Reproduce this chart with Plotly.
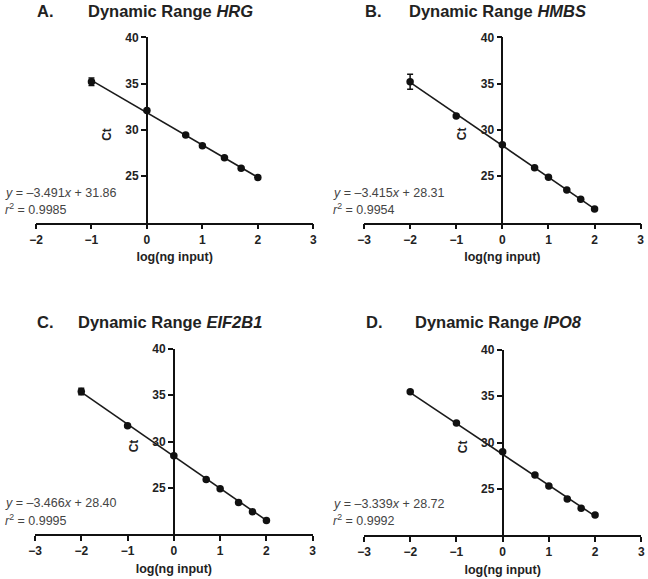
import plotly.graph_objects as go

# ---------------- data ----------------
genes = ["HRG", "HMBS", "EIF2B1", "IPO8"]
letters = ["A.", "B.", "C.", "D."]

x_A = [-1, 0, 0.699, 1, 1.398, 1.699, 2]
ct_A = [35.2, 32.1, 29.45, 28.3, 27.0, 25.85, 24.85]
err_A = [0.4, 0, 0, 0, 0, 0, 0]

x_B = [-2, -1, 0, 0.699, 1, 1.398, 1.699, 2]
ct_B = [35.2, 31.5, 28.4, 25.9, 24.9, 23.5, 22.5, 21.45]
err_B = [0.8, 0, 0, 0, 0, 0, 0, 0]

x_C = [-2, -1, 0, 0.699, 1, 1.398, 1.699, 2]
ct_C = [35.4, 31.7, 28.45, 25.9, 24.9, 23.4, 22.4, 21.45]
err_C = [0.35, 0, 0, 0, 0, 0, 0, 0]

x_D = [-2, -1, 0, 0.699, 1, 1.398, 1.699, 2]
ct_D = [35.5, 32.1, 29.0, 26.5, 25.3, 23.9, 22.9, 22.15]
err_D = [0, 0, 0, 0, 0, 0, 0, 0]

slopes = [-3.491, -3.415, -3.466, -3.339]
intercepts = [31.86, 28.31, 28.40, 28.72]
r2 = ["0.9985", "0.9954", "0.9995", "0.9992"]

x_ranges = [[-2, 3], [-3, 3], [-3, 3], [-3, 3]]
x_ticks = [[-2, -1, 0, 1, 2, 3], [-3, -2, -1, 0, 1, 2, 3],
           [-3, -2, -1, 0, 1, 2, 3], [-3, -2, -1, 0, 1, 2, 3]]
y_range = [20, 40]
y_ticks = [25, 30, 35, 40]

xs = [x_A, x_B, x_C, x_D]
cts = [ct_A, ct_B, ct_C, ct_D]
errs = [err_A, err_B, err_C, err_D]

# ---------------- layout geometry (window pixels) ----------------
W, H = 648, 579
FONT = "Liberation Sans, Arial, sans-serif"


def px(x):
    return x / W


def py(y):
    return 1 - y / H


# (x0, x1, ytop, ybottom) of each plot area in window pixels
boxes = [(36, 313.3, 37.3, 222.5), (364, 640.7, 37.3, 222.5),
         (35, 312.7, 349, 534), (364, 641.3, 350, 535)]
title_pos = [(35, 86, 11), (363, 407, 11), (35, 76, 322), (364, 413, 322)]
eq_pos = [(3, 193, 209), (331, 193, 209), (3, 503, 520), (331, 504, 520)]

fig = go.Figure()
layout = dict(width=W, height=H, margin=dict(l=0, r=0, t=0, b=0, pad=0, autoexpand=False),
              plot_bgcolor="white", paper_bgcolor="white",
              showlegend=False, font=dict(family=FONT, color="#222"))
annotations = []

for i in range(4):
    n = "" if i == 0 else str(i + 1)
    xa, ya = "x" + n, "y" + n
    x0, x1, yt, yb = boxes[i]
    xd = [px(x0), px(x1)]
    yd = [py(yb), py(yt)]
    xmin, xmax = x_ranges[i]
    frac0 = (0 - xmin) / (xmax - xmin)
    ypos = xd[0] + frac0 * (xd[1] - xd[0])
    yaxis_px = x0 + frac0 * (x1 - x0)

    # fitted line
    xl = [min(xs[i]), max(xs[i])]
    yl = [slopes[i] * v + intercepts[i] for v in xl]
    fig.add_trace(go.Scatter(x=xl, y=yl, mode="lines", xaxis=xa, yaxis=ya,
                             line=dict(color="#1a1a1a", width=1.6),
                             hoverinfo="skip"))
    # points
    fig.add_trace(go.Scatter(
        x=xs[i], y=cts[i], mode="markers", xaxis=xa, yaxis=ya,
        marker=dict(color="#111", size=7.5),
        error_y=dict(type="data", array=errs[i], visible=True,
                     color="#111", thickness=1.5, width=3)))

    layout["xaxis" + n] = dict(
        domain=xd, range=x_ranges[i], anchor=ya, tickvals=x_ticks[i],
        showline=True, linecolor="#111", linewidth=1.6, automargin=False,
        ticks="outside", ticklen=5, tickwidth=1.5, tickcolor="#111",
        showgrid=False, zeroline=False,
        tickfont=dict(size=12, family=FONT, color="#222", weight="bold"),
        title=dict(text="log(ng input)", standoff=7,
                   font=dict(size=12.5, family=FONT, color="#222", weight="bold")))
    layout["yaxis" + n] = dict(
        domain=yd, range=y_range, anchor="free", position=ypos, automargin=False,
        tickvals=y_ticks, showline=True, linecolor="#111", linewidth=1.6,
        ticks="outside", ticklen=5, tickwidth=1.5, tickcolor="#111",
        showgrid=False, zeroline=False,
        tickfont=dict(size=12, family=FONT, color="#222", weight="bold"))

    # "Ct" label
    annotations.append(dict(
        x=px(yaxis_px - 40), y=py((yt + yb) / 2 + 4), xref="paper", yref="paper",
        text="Ct", textangle=-90, showarrow=False, xanchor="center", yanchor="middle",
        font=dict(size=12, family=FONT, color="#222", weight="bold")))

    # titles
    lx, tx, ty = title_pos[i]
    annotations.append(dict(x=px(lx), y=py(ty), xref="paper", yref="paper",
                            text=letters[i], showarrow=False, xanchor="left",
                            yanchor="middle",
                            font=dict(size=16.5, family=FONT, color="#222", weight="bold")))
    annotations.append(dict(x=px(tx), y=py(ty), xref="paper", yref="paper",
                            text="Dynamic Range <i>" + genes[i] + "</i>",
                            showarrow=False, xanchor="left", yanchor="middle",
                            font=dict(size=16.5, family=FONT, color="#222", weight="bold")))

    # equation
    ex, ey1, ey2 = eq_pos[i]
    eq = "<i>y</i> = \u2013%.3f<i>x</i> + %.2f" % (abs(slopes[i]), intercepts[i])
    annotations.append(dict(x=px(ex), y=py(ey1), xref="paper", yref="paper",
                            text=eq, showarrow=False, xanchor="left", yanchor="middle",
                            font=dict(size=12.5, family=FONT, color="#444")))
    annotations.append(dict(x=px(ex), y=py(ey2), xref="paper", yref="paper",
                            text="<i>r</i><sup>2</sup> = " + r2[i], showarrow=False,
                            xanchor="left", yanchor="middle",
                            font=dict(size=12.5, family=FONT, color="#444")))

layout["annotations"] = annotations
fig.update_layout(**layout)
fig.write_html("out.html",
               config={"displayModeBar": False},
               post_script="document.body.style.margin='0';"
                           "document.body.style.overflow='hidden';")
